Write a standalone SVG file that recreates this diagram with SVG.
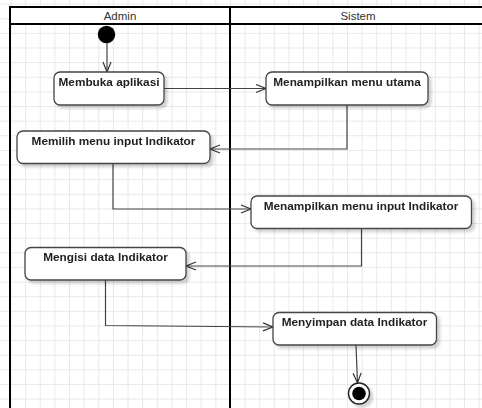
<svg xmlns="http://www.w3.org/2000/svg" width="482" height="408" viewBox="0 0 482 408">
  <defs>
    <pattern id="grid" patternUnits="userSpaceOnUse" x="10.5" y="3.6" width="14.63" height="14.63">
      <path d="M0 0.5 H14.63 M0.5 0 V14.63" fill="none" stroke="#e8e8e8" stroke-width="1"/>
    </pattern>
    <filter id="shadow" x="-10%" y="-20%" width="130%" height="160%">
      <feGaussianBlur in="SourceAlpha" stdDeviation="1.5"/>
      <feOffset dx="3" dy="3" result="b"/>
      <feComponentTransfer><feFuncA type="linear" slope="0.18"/></feComponentTransfer>
      <feMerge><feMergeNode/><feMergeNode in="SourceGraphic"/></feMerge>
    </filter>
    <marker id="open" viewBox="0 0 12 10" refX="11" refY="5" markerWidth="12" markerHeight="10" markerUnits="userSpaceOnUse" orient="auto">
      <path d="M1 1 L11 5 L1 9" fill="none" stroke="#333" stroke-width="1.2"/>
    </marker>
  </defs>
  <style>
    .lane { fill: none; stroke: #000; stroke-width: 2; }
    .head { font-family: "Liberation Sans", Arial, sans-serif; font-size: 11.5px; fill: #333; text-anchor: middle; }
    .act rect { fill: #fff; stroke: #444; stroke-width: 1.3; }
    .act text { font-family: "Liberation Sans", Arial, sans-serif; font-size: 11.8px; font-weight: bold; fill: #222; text-anchor: middle; }
    .flow { fill: none; stroke: #444; stroke-width: 1.2; marker-end: url(#open); }
  </style>

  <rect width="482" height="408" fill="#fff"/>
  <rect width="482" height="408" fill="url(#grid)"/>

  <!-- swimlanes -->
  <g id="lanes">
    <rect x="10" y="7" width="220" height="17" fill="#fff"/>
    <rect x="230" y="7" width="260" height="17" fill="#fff"/>
    <path class="lane" d="M10 410 V7 H490 M10 24 H490 M230 7 V410"/>
    <text class="head" x="120" y="19.5">Admin</text>
    <text class="head" x="358" y="19.5">Sistem</text>
  </g>

  <!-- connectors -->
  <g id="connectors">
    <path class="flow" d="M107 43 V72"/>
    <path class="flow" d="M164 88.5 H266"/>
    <path class="flow" d="M347 105 V149 H210"/>
    <path class="flow" d="M113 163 V209 H251"/>
    <path class="flow" d="M361.5 228.5 V266 H186"/>
    <path class="flow" d="M105.5 280 V325.5 L273 327"/>
    <path class="flow" d="M356 345 L357.5 383"/>
  </g>

  <g id="start">
    <circle cx="106.5" cy="34.5" r="8.7" fill="#000"/>
  </g>

  <g id="membuka" class="act" filter="url(#shadow)">
    <rect x="54" y="72" width="110" height="33" rx="6"/>
    <text x="109" y="86">Membuka aplikasi</text>
  </g>

  <g id="menu-utama" class="act" filter="url(#shadow)">
    <rect x="266" y="72" width="162" height="33" rx="6"/>
    <text x="347" y="86">Menampilkan menu utama</text>
  </g>

  <g id="memilih" class="act" filter="url(#shadow)">
    <rect x="17" y="131" width="193" height="32.5" rx="6"/>
    <text x="113.5" y="145">Memilih menu input Indikator</text>
  </g>

  <g id="menu-input" class="act" filter="url(#shadow)">
    <rect x="251" y="196" width="220.5" height="32.5" rx="6"/>
    <text x="361" y="209.5">Menampilkan menu input Indikator</text>
  </g>

  <g id="mengisi" class="act" filter="url(#shadow)">
    <rect x="25" y="247.5" width="161" height="32.5" rx="6"/>
    <text x="105.5" y="261">Mengisi data Indikator</text>
  </g>

  <g id="menyimpan" class="act" filter="url(#shadow)">
    <rect x="273" y="312.5" width="163.5" height="32.5" rx="6"/>
    <text x="354.5" y="326">Menyimpan data Indikator</text>
  </g>

  <g id="end" filter="url(#shadow)">
    <circle cx="359" cy="393.5" r="10.5" fill="#fff" stroke="#222" stroke-width="1.4"/>
    <circle cx="359" cy="393.5" r="6.8" fill="#000"/>
  </g>
</svg>
